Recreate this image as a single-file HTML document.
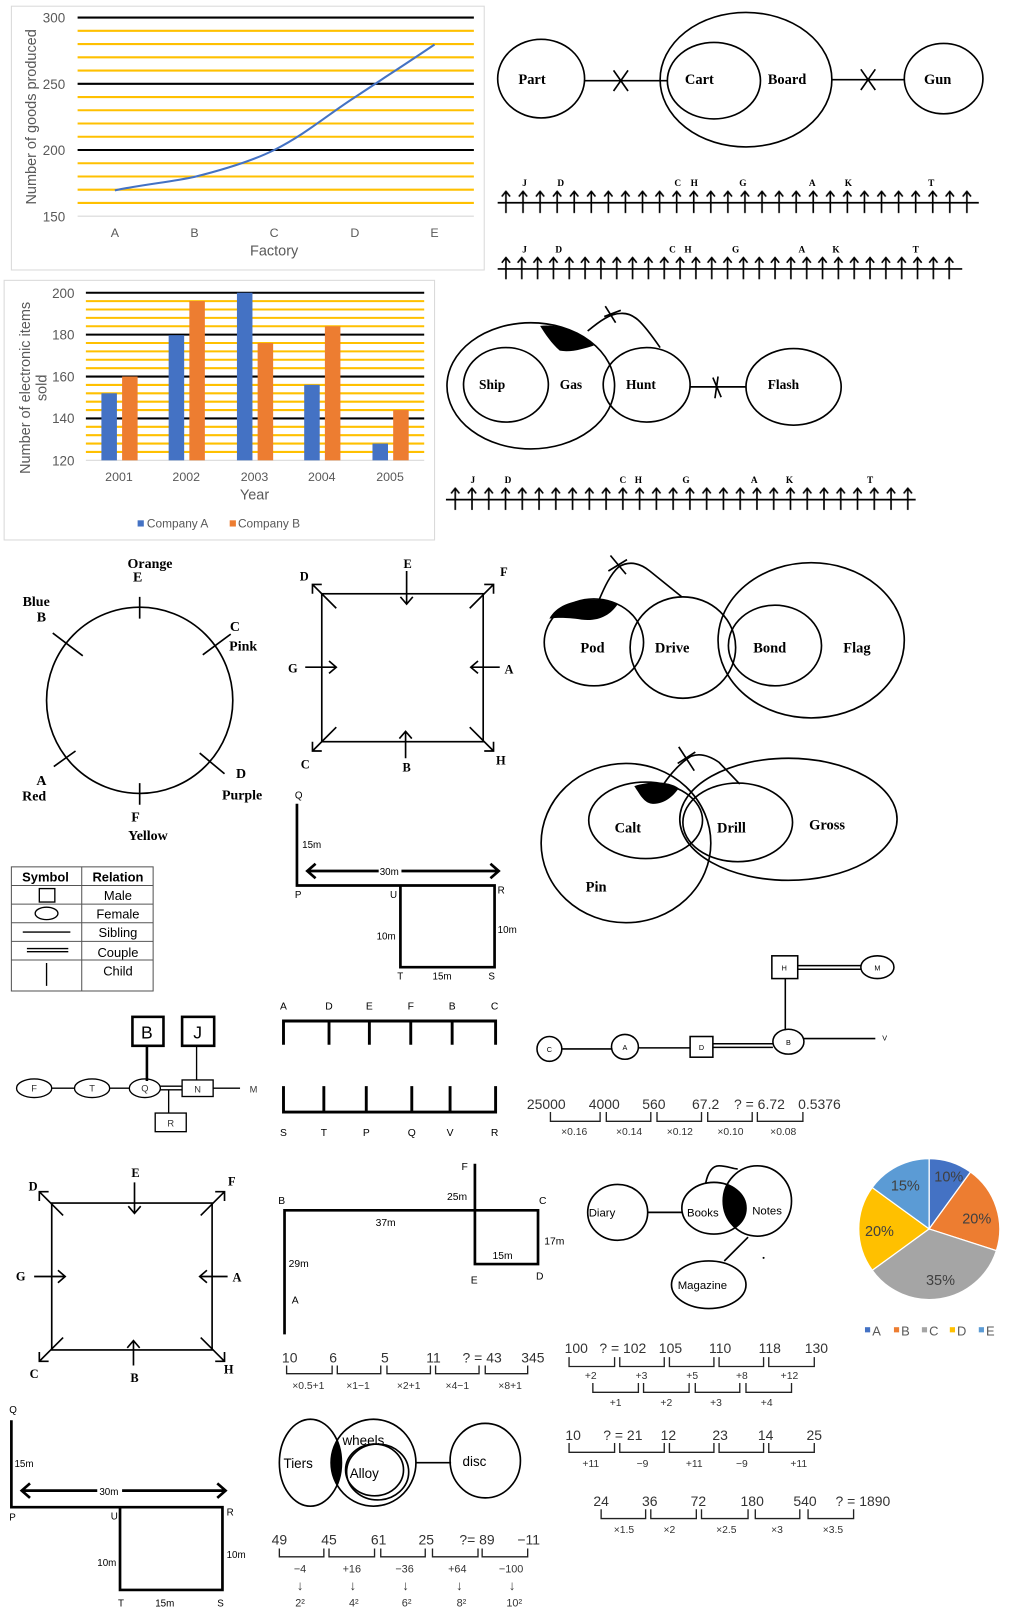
<!DOCTYPE html>
<html><head><meta charset="utf-8"><style>
html,body{margin:0;padding:0;background:#fff}
svg{display:block}
.s{font-family:"Liberation Sans",sans-serif}
.b{font-family:"Liberation Serif",serif;font-weight:bold}
.g{fill:#595959}
</style></head><body>
<svg width="1015" height="1622" viewBox="0 0 981 1568" preserveAspectRatio="none" xmlns="http://www.w3.org/2000/svg">
<defs>
<pattern id="a1" patternUnits="userSpaceOnUse" x="480.75" y="184" width="16.5" height="24"><path d="M8.25,1V22M4.25,6L8.25,1L12.25,6" stroke="#000" stroke-width="1.6" fill="none"/></pattern>
<pattern id="a2" patternUnits="userSpaceOnUse" x="481.35" y="248" width="15.3" height="24"><path d="M7.65,1V22M3.65,6L7.65,1L11.65,6" stroke="#000" stroke-width="1.6" fill="none"/></pattern>
<pattern id="a3" patternUnits="userSpaceOnUse" x="431.9" y="471" width="16.2" height="24"><path d="M8.1,1V22M4.1,6L8.1,1L12.1,6" stroke="#000" stroke-width="1.6" fill="none"/></pattern>
<clipPath id="cn"><ellipse cx="732" cy="1161" rx="33" ry="34"/></clipPath>
<clipPath id="cw"><ellipse cx="361" cy="1414" rx="41" ry="42"/></clipPath>
</defs>
<rect width="981" height="1568" fill="#fff"/>

<!-- Line chart -->
<rect x="11" y="6" width="457" height="255" fill="none" stroke="#d9d9d9"/>
<g stroke="#ffc000" stroke-width="2">
<path d="M75,29.8H458M75,42.6H458M75,55.4H458M75,68.2H458M75,93.8H458M75,106.6H458M75,119.4H458M75,132.2H458M75,157.8H458M75,170.6H458M75,183.4H458M75,196.2H458"/>
</g>
<g stroke="#000" stroke-width="2"><path d="M75,17H458M75,81H458M75,145H458"/></g>
<path d="M75,209H458" stroke="#d9d9d9"/>
<g class="s g" font-size="13" text-anchor="end"><text x="63" y="22">300</text><text x="63" y="86">250</text><text x="63" y="150">200</text><text x="63" y="214">150</text></g>
<path d="M111,184 C140,178 165,176 188,171 C220,163 245,155 265,145 C295,130 318,110 343,94 C370,76 395,60 420,43" fill="none" stroke="#4472c4" stroke-width="2"/>
<g class="s g" font-size="12" text-anchor="middle"><text x="111" y="229">A</text><text x="188" y="229">B</text><text x="265" y="229">C</text><text x="343" y="229">D</text><text x="420" y="229">E</text></g>
<text class="s g" x="265" y="247" font-size="14" text-anchor="middle">Factory</text>
<text class="s g" font-size="14" text-anchor="middle" transform="translate(35,113) rotate(-90)">Number of goods produced</text>

<!-- Bar chart -->
<rect x="4" y="271" width="416" height="251" fill="none" stroke="#d9d9d9"/>
<g stroke="#ffc000" stroke-width="2">
<path d="M83,291.1H410M83,299.2H410M83,307.3H410M83,315.4H410M83,331.6H410M83,339.7H410M83,347.8H410M83,355.9H410M83,372.1H410M83,380.2H410M83,388.3H410M83,396.4H410M83,412.6H410M83,420.7H410M83,428.8H410M83,436.9H410"/>
</g>
<g stroke="#000" stroke-width="2"><path d="M83,283H410M83,323.5H410M83,364H410M83,404.5H410"/></g>
<path d="M83,445H410" stroke="#d9d9d9"/>
<g fill="#4472c4">
<rect x="98" y="380.2" width="15" height="64.8"/>
<rect x="163" y="324" width="15" height="121"/>
<rect x="229" y="283" width="15" height="162"/>
<rect x="294" y="372" width="15" height="73"/>
<rect x="360" y="428.8" width="15" height="16.2"/>
</g>
<g fill="#ed7d31">
<rect x="118" y="364" width="15" height="81"/>
<rect x="183" y="291" width="15" height="154"/>
<rect x="249" y="331.6" width="15" height="113.4"/>
<rect x="314" y="315.4" width="15" height="129.6"/>
<rect x="380" y="396.4" width="15" height="48.6"/>
</g>
<g class="s g" font-size="13" text-anchor="end"><text x="72" y="288">200</text><text x="72" y="328">180</text><text x="72" y="369">160</text><text x="72" y="409">140</text><text x="72" y="450">120</text></g>
<g class="s g" font-size="12" text-anchor="middle"><text x="115" y="465">2001</text><text x="180" y="465">2002</text><text x="246" y="465">2003</text><text x="311" y="465">2004</text><text x="377" y="465">2005</text></g>
<text class="s g" x="246" y="483" font-size="14" text-anchor="middle">Year</text>
<rect x="133" y="503" width="6" height="6" fill="#4472c4"/><text class="s g" x="142" y="510" font-size="11.5">Company A</text>
<rect x="222" y="503" width="6" height="6" fill="#ed7d31"/><text class="s g" x="230" y="510" font-size="11.5">Company B</text>
<text class="s g" font-size="14" text-anchor="middle" transform="translate(29,375) rotate(-90)">Number of electronic items</text>
<text class="s g" font-size="14" text-anchor="middle" transform="translate(45,375) rotate(-90)">sold</text>

<!-- Part / Board / Gun -->
<g fill="none" stroke="#000" stroke-width="1.6">
<ellipse cx="523" cy="76" rx="42" ry="38"/>
<ellipse cx="721" cy="77" rx="83" ry="65"/>
<ellipse cx="690" cy="78" rx="45" ry="37"/>
<ellipse cx="912" cy="76" rx="38" ry="34"/>
<path d="M565,78H645M593,68L607,88M607,68L593,88"/>
<path d="M804,77H874M832,67L846,87M846,67L832,87"/>
</g>
<g class="b" font-size="14"><text x="501" y="81">Part</text><text x="662" y="81">Cart</text><text x="742" y="81">Board</text><text x="893" y="81">Gun</text></g>

<!-- arrow rows -->
<path d="M481,196H946M481,260H930M431,483H885" stroke="#000" stroke-width="1.6"/>
<rect x="480.75" y="184" width="462" height="23" fill="url(#a1)"/>
<rect x="481.35" y="248" width="443.7" height="23" fill="url(#a2)"/>
<rect x="431.9" y="471" width="453.6" height="23" fill="url(#a3)"/>
<g class="b" font-size="9" text-anchor="middle">
<text x="507" y="180">J</text><text x="542" y="180">D</text><text x="655" y="180">C</text><text x="671" y="180">H</text><text x="718" y="180">G</text><text x="785" y="180">A</text><text x="820" y="180">K</text><text x="900" y="180">T</text>
<text x="507" y="244">J</text><text x="540" y="244">D</text><text x="650" y="244">C</text><text x="665" y="244">H</text><text x="711" y="244">G</text><text x="775" y="244">A</text><text x="808" y="244">K</text><text x="885" y="244">T</text>
<text x="457" y="467">J</text><text x="491" y="467">D</text><text x="602" y="467">C</text><text x="617" y="467">H</text><text x="663" y="467">G</text><text x="729" y="467">A</text><text x="763" y="467">K</text><text x="841" y="467">T</text>
</g>

<!-- Gas diagram -->
<g fill="none" stroke="#000" stroke-width="1.6">
<ellipse cx="513" cy="373" rx="81" ry="61"/>
<ellipse cx="489" cy="372" rx="41" ry="36"/>
<ellipse cx="625" cy="372" rx="42" ry="36"/>
<ellipse cx="767" cy="374" rx="46" ry="37"/>
<path d="M667,374H721M689,365L697,384M694,364L691,385"/>
<path d="M568,320 C580,310 590,303 600,303 C612,302 620,310 638,336"/>
<path d="M585,296L595,312M584,306L600,300"/>
</g>
<path d="M522,315 C540,313 560,320 574,334 C565,337 552,341 541,339 C533,332 527,323 522,315Z" fill="#000"/>
<g class="b" font-size="13"><text x="463" y="376">Ship</text><text x="541" y="376">Gas</text><text x="605" y="376">Hunt</text><text x="742" y="376">Flash</text></g>

<!-- Circle -->
<g fill="none" stroke="#000" stroke-width="1.6">
<ellipse cx="135" cy="677" rx="90" ry="90"/>
<path d="M135,577V598M135,757V778M51,612L80,634M196,633L223,613M52,741L73,726M193,728L217,748"/>
</g>
<g class="b" font-size="13.5" text-anchor="middle">
<text x="145" y="549">Orange</text><text x="133" y="562">E</text>
<text x="35" y="586">Blue</text><text x="40" y="601">B</text>
<text x="227" y="610">C</text><text x="235" y="629">Pink</text>
<text x="40" y="759">A</text><text x="33" y="774">Red</text>
<text x="233" y="752">D</text><text x="234" y="773">Purple</text>
<text x="131" y="794">F</text><text x="143" y="812">Yellow</text>
</g>

<!-- Square 1 -->
<g fill="none" stroke="#000" stroke-width="1.6">
<rect x="311" y="574" width="156" height="143"/>
<path d="M393,552V584M387,577L393,584L399,577"/>
<path d="M325,588L302,565M302,574V565H311"/>
<path d="M454,588L477,565M468,565H477V574"/>
<path d="M325,703L302,726M302,717V726H311"/>
<path d="M454,703L477,726M477,717V726H468"/>
<path d="M295,645H325M318,639L325,645L318,651"/>
<path d="M483,645H455M462,639L455,645L462,651"/>
<path d="M392,733V707M386,714L392,707L398,714"/>
</g>
<g class="b" font-size="12" text-anchor="middle"><text x="394" y="549">E</text><text x="294" y="561">D</text><text x="487" y="557">F</text><text x="283" y="650">G</text><text x="492" y="651">A</text><text x="295" y="743">C</text><text x="393" y="746">B</text><text x="484" y="739">H</text></g>

<!-- PQ 1 -->
<g fill="none" stroke="#000" stroke-width="2.6">
<path d="M287,777V856H478V935H387V856"/>
<path d="M297,842H482M305,835L297,842L305,849M474,835L482,842L474,849"/>
</g>
<rect x="366" y="836" width="22" height="12" fill="#fff"/>
<g class="s" font-size="9.5"><text x="285" y="772">Q</text><text x="292" y="820">15m</text><text x="367" y="846">30m</text><text x="285" y="868">P</text><text x="377" y="868">U</text><text x="481" y="864">R</text><text x="364" y="908">10m</text><text x="481" y="902">10m</text><text x="384" y="947">T</text><text x="418" y="947">15m</text><text x="472" y="947">S</text></g>

<!-- Table -->
<g fill="none" stroke="#555" stroke-width="1">
<rect x="11" y="838" width="137" height="120"/>
<path d="M79,838V958M11,856H148M11,874H148M11,892H148M11,910H148M11,928H148"/>
</g>
<g fill="none" stroke="#000" stroke-width="1.3">
<rect x="38" y="859" width="15" height="13"/>
<ellipse cx="45" cy="883" rx="11" ry="6"/>
<path d="M22,901H68M26,917H66M26,920H66M45,931V953"/>
</g>
<g class="s" font-size="12.5" text-anchor="middle"><text x="44" y="852" font-weight="bold">Symbol</text><text x="114" y="852" font-weight="bold">Relation</text><text x="114" y="870">Male</text><text x="114" y="888">Female</text><text x="114" y="906">Sibling</text><text x="114" y="925">Couple</text><text x="114" y="943">Child</text></g>

<!-- Family tree 1 -->
<g fill="none" stroke="#000" stroke-width="2.5"><rect x="128" y="983" width="30" height="28"/><rect x="176" y="983" width="31" height="28"/><path d="M142,1011V1045"/></g>
<g fill="none" stroke="#000" stroke-width="1.3">
<path d="M190,1011V1044M50,1052H72M106,1052H125M155,1050H176M155,1053.5H176M206,1052H232M163,1054V1076"/>
<ellipse cx="33" cy="1052" rx="17" ry="9"/><ellipse cx="89" cy="1052" rx="17" ry="9"/><ellipse cx="140" cy="1052" rx="15" ry="9"/>
<rect x="176" y="1044" width="30" height="16"/><rect x="150" y="1076" width="30" height="18"/>
</g>
<text class="s" x="142" y="1004" font-size="17" text-anchor="middle">B</text><text class="s" x="191" y="1004" font-size="17" text-anchor="middle">J</text>
<g class="s" font-size="9" text-anchor="middle" fill="#333"><text x="33" y="1055">F</text><text x="89" y="1055">T</text><text x="140" y="1055">Q</text><text x="191" y="1056">N</text><text x="245" y="1056">M</text><text x="165" y="1089">R</text></g>

<!-- Linear arrangement -->
<g fill="none" stroke="#000" stroke-width="2.8">
<path d="M274,1010V987H479V1010M318,987V1010M357,987V1010M397,987V1010M437,987V1010"/>
<path d="M274,1050V1075H479V1050M313,1050V1075M354,1050V1075M398,1050V1075M435,1050V1075"/>
</g>
<g class="s" font-size="10" text-anchor="middle"><text x="274" y="976">A</text><text x="318" y="976">D</text><text x="357" y="976">E</text><text x="397" y="976">F</text><text x="437" y="976">B</text><text x="478" y="976">C</text>
<text x="274" y="1098">S</text><text x="313" y="1098">T</text><text x="354" y="1098">P</text><text x="398" y="1098">Q</text><text x="435" y="1098">V</text><text x="478" y="1098">R</text></g>

<!-- Pod diagram -->
<g fill="none" stroke="#000" stroke-width="1.6">
<ellipse cx="574" cy="621" rx="48" ry="42"/>
<ellipse cx="660" cy="626" rx="51" ry="49"/>
<ellipse cx="784" cy="619" rx="90" ry="75"/>
<ellipse cx="749" cy="624" rx="45" ry="39"/>
<path d="M579,580 C584,568 590,555 598,548 C608,542 618,544 628,552 L659,577"/>
<path d="M590,537L605,555M588,552L606,541"/>
</g>
<path d="M531,598 C538,585 555,578 583,580 L597,584 C590,595 578,601 562,599 C548,597 540,597 531,598Z" fill="#000"/>
<g class="b" font-size="14"><text x="561" y="631">Pod</text><text x="633" y="631">Drive</text><text x="728" y="631">Bond</text><text x="815" y="631">Flag</text></g>

<!-- Calt diagram -->
<g fill="none" stroke="#000" stroke-width="1.6">
<ellipse cx="605" cy="815" rx="82" ry="77"/>
<ellipse cx="624" cy="793" rx="55" ry="37"/>
<ellipse cx="762" cy="792" rx="105" ry="59"/>
<ellipse cx="713" cy="795" rx="53" ry="38"/>
<path d="M640,760 C648,748 658,737 668,731 C676,728 685,730 695,737 L715,758"/>
<path d="M656,722L671,745M655,738L672,727"/>
</g>
<path d="M613,760 C625,756 645,754 656,762 C650,771 640,778 630,777 C622,776 618,767 613,760Z" fill="#000"/>
<g class="b" font-size="14"><text x="594" y="805">Calt</text><text x="693" y="805">Drill</text><text x="782" y="802">Gross</text><text x="566" y="862">Pin</text></g>

<!-- Family tree 2 -->
<g fill="none" stroke="#000" stroke-width="1.5">
<rect x="746" y="924" width="25" height="22"/><ellipse cx="848" cy="935" rx="16" ry="11"/>
<path d="M771,933.5H832M771,937H832M759,946V996M777,1004H846M543,1014H592M617,1013H667M689,1009H747M689,1012.5H747"/>
<ellipse cx="762" cy="1007" rx="15" ry="12"/>
<ellipse cx="531" cy="1014" rx="12" ry="12"/><ellipse cx="604" cy="1012" rx="13" ry="12"/>
<rect x="667" y="1002" width="22" height="20"/>
</g>
<g class="s" font-size="7" text-anchor="middle"><text x="758" y="938">H</text><text x="848" y="938">M</text><text x="762" y="1010">B</text><text x="855" y="1006">V</text><text x="531" y="1017">C</text><text x="604" y="1015">A</text><text x="678" y="1015">D</text></g>

<!-- Series 1 -->
<g class="s" font-size="13.5" fill="#333" text-anchor="middle"><text x="528" y="1072">25000</text><text x="584" y="1072">4000</text><text x="632" y="1072">560</text><text x="682" y="1072">67.2</text><text x="734" y="1072">? = 6.72</text><text x="792" y="1072">0.5376</text></g>
<path d="M532,1075V1084H580V1075M586,1075V1084H629V1075M635,1075V1084H678V1075M684,1075V1084H727V1075M732,1075V1084H776V1075" fill="none" stroke="#222" stroke-width="1.3"/>
<g class="s" font-size="10" fill="#333" text-anchor="middle"><text x="555" y="1097">×0.16</text><text x="608" y="1097">×0.14</text><text x="657" y="1097">×0.12</text><text x="706" y="1097">×0.10</text><text x="757" y="1097">×0.08</text></g>

<!-- Square 2 -->
<g fill="none" stroke="#000" stroke-width="1.6">
<rect x="50" y="1163" width="155" height="142"/>
<path d="M130,1143V1173M124,1166L130,1173L136,1166"/>
<path d="M61,1175L38,1152M38,1161V1152H47"/>
<path d="M194,1175L217,1152M208,1152H217V1161"/>
<path d="M61,1293L38,1316M38,1307V1316H47"/>
<path d="M194,1293L217,1316M217,1307V1316H208"/>
<path d="M33,1234H63M56,1228L63,1234L56,1240"/>
<path d="M220,1234H193M200,1228L193,1234L200,1240"/>
<path d="M129,1320V1296M123,1303L129,1296L135,1303"/>
</g>
<g class="b" font-size="12" text-anchor="middle"><text x="131" y="1138">E</text><text x="32" y="1151">D</text><text x="224" y="1146">F</text><text x="20" y="1238">G</text><text x="229" y="1239">A</text><text x="33" y="1332">C</text><text x="130" y="1336">B</text><text x="221" y="1328">H</text></g>

<!-- B F C diagram -->
<g fill="none" stroke="#000" stroke-width="2.6"><path d="M275,1290V1170H459V1222H520V1170H459V1125"/></g>
<g class="s" font-size="10"><text x="269" y="1164">B</text><text x="446" y="1131">F</text><text x="432" y="1160">25m</text><text x="363" y="1185">37m</text><text x="279" y="1225">29m</text><text x="282" y="1260">A</text><text x="521" y="1164">C</text><text x="526" y="1203">17m</text><text x="476" y="1217">15m</text><text x="455" y="1241">E</text><text x="518" y="1237">D</text></g>

<!-- Series 5 -->
<g class="s" font-size="13.5" fill="#333" text-anchor="middle"><text x="280" y="1317">10</text><text x="322" y="1317">6</text><text x="372" y="1317">5</text><text x="419" y="1317">11</text><text x="466" y="1317">? = 43</text><text x="515" y="1317">345</text></g>
<path d="M277,1320V1328H321V1320M326,1320V1328H368V1320M374,1320V1328H416V1320M421,1320V1328H463V1320M469,1320V1328H510V1320" fill="none" stroke="#222" stroke-width="1.3"/>
<g class="s" font-size="10" fill="#333" text-anchor="middle"><text x="298" y="1343">×0.5+1</text><text x="346" y="1343">×1−1</text><text x="395" y="1343">×2+1</text><text x="442" y="1343">×4−1</text><text x="493" y="1343">×8+1</text></g>

<!-- Tiers diagram -->
<g clip-path="url(#cw)"><ellipse cx="300" cy="1414" rx="30" ry="42" fill="#000"/></g>
<g fill="none" stroke="#000" stroke-width="1.6">
<ellipse cx="300" cy="1414" rx="30" ry="42"/>
<ellipse cx="361" cy="1414" rx="41" ry="42"/>
<ellipse cx="365" cy="1423" rx="30" ry="27"/>
<ellipse cx="362" cy="1421" rx="28" ry="25"/>
<path d="M402,1414H436"/>
<ellipse cx="469" cy="1412" rx="34" ry="36"/>
</g>
<g class="s" font-size="13"><text x="274" y="1419">Tiers</text><text x="331" y="1397">wheels</text><text x="338" y="1429">Alloy</text><text x="447" y="1417">disc</text></g>

<!-- Series 6 -->
<g class="s" font-size="13.5" fill="#333" text-anchor="middle"><text x="270" y="1493">49</text><text x="318" y="1493">45</text><text x="366" y="1493">61</text><text x="412" y="1493">25</text><text x="461" y="1493">?= 89</text><text x="511" y="1493">−11</text></g>
<path d="M270,1497V1505H313V1497M318,1497V1505H362V1497M368,1497V1505H411V1497M418,1497V1505H462V1497M466,1497V1505H510V1497" fill="none" stroke="#222" stroke-width="1.3"/>
<g class="s" font-size="10.5" fill="#333" text-anchor="middle"><text x="290" y="1520">−4</text><text x="340" y="1520">+16</text><text x="391" y="1520">−36</text><text x="442" y="1520">+64</text><text x="494" y="1520">−100</text>
<text x="290" y="1537" font-size="13">↓</text><text x="341" y="1537" font-size="13">↓</text><text x="392" y="1537" font-size="13">↓</text><text x="444" y="1537" font-size="13">↓</text><text x="495" y="1537" font-size="13">↓</text>
<text x="290" y="1553">2²</text><text x="342" y="1553">4²</text><text x="393" y="1553">6²</text><text x="446" y="1553">8²</text><text x="497" y="1553">10²</text></g>

<!-- PQ 2 -->
<g fill="none" stroke="#000" stroke-width="2.6">
<path d="M11,1373V1457H215V1537H116V1457"/>
<path d="M21,1441H218M29,1434L21,1441L29,1448M210,1434L218,1441L210,1448"/>
</g>
<rect x="94" y="1435" width="24" height="12" fill="#fff"/>
<g class="s" font-size="9.5"><text x="9" y="1366">Q</text><text x="14" y="1418">15m</text><text x="96" y="1445">30m</text><text x="9" y="1470">P</text><text x="107" y="1469">U</text><text x="219" y="1465">R</text><text x="94" y="1514">10m</text><text x="219" y="1506">10m</text><text x="114" y="1553">T</text><text x="150" y="1553">15m</text><text x="210" y="1553">S</text></g>

<!-- Diary diagram -->
<g clip-path="url(#cn)"><ellipse cx="690" cy="1168" rx="31" ry="25" fill="#000"/></g>
<g fill="none" stroke="#000" stroke-width="1.6">
<ellipse cx="597" cy="1172" rx="29" ry="27"/>
<path d="M626,1172H659"/>
<ellipse cx="690" cy="1168" rx="31" ry="25"/>
<ellipse cx="732" cy="1161" rx="33" ry="34"/>
<path d="M682,1144 C684,1134 688,1127 695,1127 C703,1127 708,1130 713,1130"/>
<path d="M723,1196L700,1219"/>
<ellipse cx="685" cy="1242" rx="36" ry="23"/>
</g>
<circle cx="738" cy="1216" r="1" fill="#000"/>
<g class="s" font-size="11"><text x="569" y="1176">Diary</text><text x="664" y="1176">Books</text><text x="727" y="1174">Notes</text><text x="655" y="1246">Magazine</text></g>

<!-- Pie -->
<g stroke="#fff" stroke-width="1.2">
<path d="M898,1188L898,1120A68,68 0 0 1 938,1133Z" fill="#4472c4"/>
<path d="M898,1188L938,1133A68,68 0 0 1 963,1209Z" fill="#ed7d31"/>
<path d="M898,1188L963,1209A68,68 0 0 1 843,1228Z" fill="#a5a5a5"/>
<path d="M898,1188L843,1228A68,68 0 0 1 843,1148Z" fill="#ffc000"/>
<path d="M898,1188L843,1148A68,68 0 0 1 898,1120Z" fill="#5b9bd5"/>
</g>
<g class="s" font-size="14" fill="#404040" text-anchor="middle"><text x="917" y="1142">10%</text><text x="944" y="1183">20%</text><text x="909" y="1242">35%</text><text x="850" y="1195">20%</text><text x="875" y="1151">15%</text></g>
<g class="s g" font-size="12.5"><rect x="836" y="1283" width="5" height="5" fill="#4472c4"/><text x="843" y="1291">A</text><rect x="864" y="1283" width="5" height="5" fill="#ed7d31"/><text x="871" y="1291">B</text><rect x="891" y="1283" width="5" height="5" fill="#a5a5a5"/><text x="898" y="1291">C</text><rect x="918" y="1283" width="5" height="5" fill="#ffc000"/><text x="925" y="1291">D</text><rect x="946" y="1283" width="5" height="5" fill="#5b9bd5"/><text x="953" y="1291">E</text></g>

<!-- Series 2 -->
<g class="s" font-size="13.5" fill="#333" text-anchor="middle"><text x="557" y="1308">100</text><text x="602" y="1308">? = 102</text><text x="648" y="1308">105</text><text x="696" y="1308">110</text><text x="744" y="1308">118</text><text x="789" y="1308">130</text></g>
<path d="M550,1312V1321H594V1312M599,1312V1321H642V1312M647,1312V1321H690V1312M695,1312V1321H738V1312M743,1312V1321H787V1312M573,1337V1346H617V1337M622,1337V1346H666V1337M672,1337V1346H715V1337M721,1337V1346H765V1337" fill="none" stroke="#222" stroke-width="1.3"/>
<g class="s" font-size="10" fill="#333" text-anchor="middle"><text x="571" y="1333">+2</text><text x="620" y="1333">+3</text><text x="669" y="1333">+5</text><text x="717" y="1333">+8</text><text x="763" y="1333">+12</text><text x="595" y="1359">+1</text><text x="644" y="1359">+2</text><text x="692" y="1359">+3</text><text x="741" y="1359">+4</text></g>

<!-- Series 3 -->
<g class="s" font-size="13.5" fill="#333" text-anchor="middle"><text x="554" y="1392">10</text><text x="602" y="1392">? = 21</text><text x="646" y="1392">12</text><text x="696" y="1392">23</text><text x="740" y="1392">14</text><text x="787" y="1392">25</text></g>
<path d="M550,1395V1404H594V1395M599,1395V1404H642V1395M647,1395V1404H690V1395M695,1395V1404H738V1395M743,1395V1404H787V1395" fill="none" stroke="#222" stroke-width="1.3"/>
<g class="s" font-size="10" fill="#333" text-anchor="middle"><text x="571" y="1418">+11</text><text x="621" y="1418">−9</text><text x="671" y="1418">+11</text><text x="717" y="1418">−9</text><text x="772" y="1418">+11</text></g>

<!-- Series 4 -->
<g class="s" font-size="13.5" fill="#333" text-anchor="middle"><text x="581" y="1456">24</text><text x="628" y="1456">36</text><text x="675" y="1456">72</text><text x="727" y="1456">180</text><text x="778" y="1456">540</text><text x="834" y="1456">? = 1890</text></g>
<path d="M581,1459V1468H624V1459M629,1459V1468H673V1459M678,1459V1468H723V1459M730,1459V1468H773V1459M781,1459V1468H825V1459" fill="none" stroke="#222" stroke-width="1.3"/>
<g class="s" font-size="10" fill="#333" text-anchor="middle"><text x="603" y="1482">×1.5</text><text x="647" y="1482">×2</text><text x="702" y="1482">×2.5</text><text x="751" y="1482">×3</text><text x="805" y="1482">×3.5</text></g>
</svg>
</body></html>
